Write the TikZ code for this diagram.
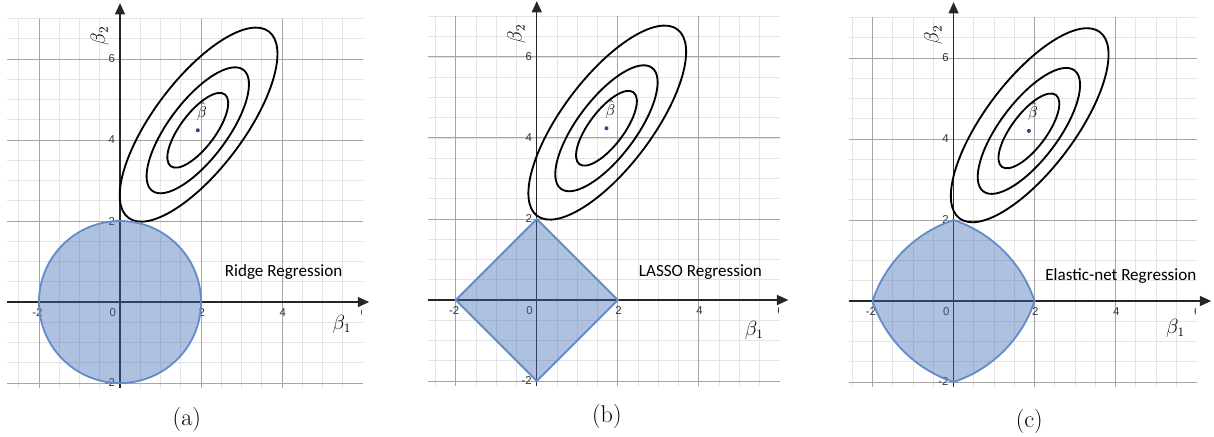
\documentclass[tikz,border=0pt]{standalone}
\usepackage{amsmath}
\usepackage[no-math]{fontspec}
\newfontfamily\ticksans{Liberation Sans}
\newfontfamily\calibri{Carlito}
\usetikzlibrary{arrows.meta}

\definecolor{regfill}{RGB}{62,110,180}
\definecolor{regline}{RGB}{100,140,200}
\definecolor{dotblue}{RGB}{50,70,140}
\definecolor{minorgray}{RGB}{228,228,228}
\definecolor{majorgray}{RGB}{165,165,165}

\tikzset{
  minorgrid/.style={minorgray, line width=0.6pt},
  majorgrid/.style={majorgray, line width=0.7pt},
  axisline/.style={black!85, line width=0.8pt, -{Triangle[length=2.8mm,width=2.5mm]}},
  ticklbl/.style={font=\ticksans\fontsize{8}{9}\selectfont, text=black!80, inner sep=0.5pt},
  betalbl/.style={font=\fontsize{13.5}{15}\selectfont, inner sep=0pt},
  contour/.style={line width=1.3pt},
  region/.style={draw=regline, line width=1.3pt, fill=regfill, fill opacity=0.42},
  regtitle/.style={font=\calibri\fontsize{12}{14}\selectfont, inner sep=0pt},
  subcap/.style={font=\fontsize{17}{20}\selectfont, inner sep=0pt},
  declare function={enr(\t)=-(abs(cos(\t))+abs(sin(\t)))+sqrt((abs(cos(\t))+abs(sin(\t)))^2+8);}
}

\begin{document}
\begin{tikzpicture}
\useasboundingbox (-2.963,-3.309) rectangle (27.01,7.457);

\foreach \sx/\sy/\L/\T/\bx/\by/\ox/\oy/\cy/\cx/\lab in {0/0/-2.78/6.15/1.92/4.24/5.48/-0.55/-2.91/1.65/a,
    10.29/0.05/-2.68/6.21/1.72/4.24/5.37/-0.74/-2.88/1.73/b,
    20.58/0.025/-2.59/6.36/1.86/4.2/5.48/-0.67/-2.98/1.87/c}{
  \begin{scope}[shift={(\sx,\sy)}]
    % graella
    \foreach \x in {-2.5,-2,...,5.5} \draw[minorgrid] (\x,-2.12) -- (\x,7);
    \foreach \y in {-2,-1.5,...,7} \draw[minorgrid] (\L,\y) -- (6,\y);
    \foreach \x in {-2,2,4} \draw[majorgrid] (\x,-2.12) -- (\x,7);
    \foreach \y in {-2,2,4,6} \draw[majorgrid] (\L,\y) -- (6,\y);
    % eixos
    \draw[axisline] (\L,0) -- (\T,0);
    \draw[axisline] (0,-2.12) -- (0,7.38);
    \node[ticklbl] (xm2\lab) at (-2.04,-0.25) {-2};
    \node[ticklbl] (xz\lab) at (-0.18,-0.25) {0};
    \node[ticklbl] (xp2\lab) at (2.02,-0.25) {2};
    \node[ticklbl] (xp4\lab) at (4.02,-0.25) {4};
    \begin{scope}
      \clip (\L,-2.2) rectangle (5.97,7.1);
      \node[ticklbl] (xp6\lab) at (6.02,-0.25) {6}; % tallat
    \end{scope}
    \node[ticklbl] (yp2\lab) at (-0.2,2) {2};
    \node[ticklbl] (yp4\lab) at (-0.2,4) {4};
    \node[ticklbl] (yp6\lab) at (-0.2,6) {6};
    \node[ticklbl] (ym2\lab) at (-0.25,-1.99) {-2};
    \node[betalbl] (bone\lab) at (\ox,\oy) {$\beta_1$};
    \node[betalbl, rotate=90] (btwo\lab) at (-0.5,6.57) {$\beta_2$};
    % el·lipses
    \begin{scope}[shift={(\bx,\by)}]
      \draw[contour, rotate around={53:(0.02,0.14)}] (0.02,0.14) ellipse [x radius=2.88, y radius=1.11];
      \draw[contour, rotate=53] (0,0) ellipse [x radius=1.87, y radius=0.72];
      \draw[contour, rotate=53] (0,0) ellipse [x radius=1.11, y radius=0.43];
      \fill[dotblue] (0,0) circle (0.05);
      \node[font=\fontsize{11}{12}\selectfont, inner sep=0pt] (hat\lab) at (0.1,0.47) {$\hat{\beta}$};
    \end{scope}
    \node[subcap] (cap\lab) at (\cx,\cy) {(\lab)};
  \end{scope}
}

% ridge
\begin{scope}
  \draw[region] (0,0) circle (2);
  \node[regtitle] (ridge) at (4.04,0.75) {Ridge Regression};
\end{scope}
% lasso
\begin{scope}[shift={(10.29,0.05)}]
  \draw[region] (2,0) -- (0,2) -- (-2,0) -- (0,-2) -- cycle;
  \node[regtitle] (lasso) at (4.04,0.70) {LASSO Regression};
\end{scope}
% elastic-net
\begin{scope}[shift={(20.58,0.025)}]
  \draw[region] plot[domain=0:360, samples=181] ({enr(\x)*cos(\x)},{enr(\x)*sin(\x)}) -- cycle;
  \node[regtitle] (enet) at (4.13,0.62) {Elastic-net Regression};
\end{scope}
\end{tikzpicture}
\end{document}
